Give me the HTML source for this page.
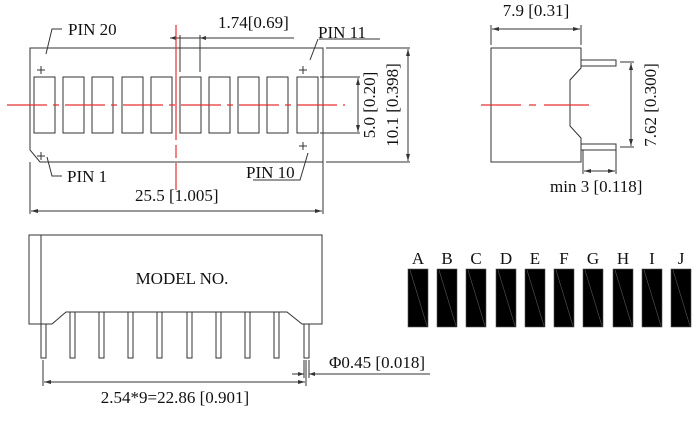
<!DOCTYPE html>
<html><head><meta charset="utf-8"><style>
html,body{margin:0;padding:0;background:#fff;}
svg{display:block;}
text{font-family:"Liberation Serif",serif;font-size:17px;fill:#111;}
</style></head><body>
<svg width="700" height="421" viewBox="0 0 700 421" xmlns="http://www.w3.org/2000/svg">
<g fill="none" stroke="#333" stroke-width="1">
<path d="M30,48 H323 V162 H40 L30,150 Z"/>
<rect x="34" y="77" width="21" height="56"/>
<rect x="63" y="77" width="21" height="56"/>
<rect x="92" y="77" width="21" height="56"/>
<rect x="122" y="77" width="21" height="56"/>
<rect x="151" y="77" width="21" height="56"/>
<rect x="180" y="77" width="21" height="56"/>
<rect x="209" y="77" width="21" height="56"/>
<rect x="238" y="77" width="21" height="56"/>
<rect x="267" y="77" width="21" height="56"/>
<rect x="297" y="77" width="21" height="56"/>
<path d="M37,70 h8 M41,66 v8 M299,70 h8 M303,66 v8 M37,156 h8 M41,152 v8 M299,146 h8 M303,142 v8"/>
<path d="M62,29 H52 L46,54"/>
<path d="M62,176 H52 L47,157"/>
<path d="M318,39 L310,60"/>
<path d="M319,39 H380"/>
<path d="M253,180 H300 L308,153"/>
<path d="M170,38 H294 M180,35 V72 M200,35 V72"/>
<path d="M320,77 H360 M320,133 H360 M358,78 V132"/>
<path d="M326,48 H410 M326,162 H410 M408,49 V161"/>
<path d="M30,162 V214 M323,162 V214 M31,211 H322"/>
<path d="M491,48 H581 V68 L570,80 V126 L581,138 V162 H491 Z"/>
<path d="M581,60 H616 V66 H581 M581,144 H616 V150 H581"/>
<path d="M491,25 V45 M581,25 V45 M492,29 H580"/>
<path d="M620,62 H634 M620,147 H634 M631,63 V146"/>
<path d="M583,150 V174 M616,150 V174 M584,171 H615"/>
<path d="M29,235 H322 V324 H302 L287,312 H66 L52,324 H29 Z"/>
<path d="M41,235 V324"/>
<g>
<rect x="41" y="324" width="5" height="34"/>
<rect x="70" y="312" width="5" height="46"/>
<rect x="99" y="312" width="5" height="46"/>
<rect x="128" y="312" width="5" height="46"/>
<rect x="157" y="312" width="5" height="46"/>
<rect x="187" y="312" width="5" height="46"/>
<rect x="216" y="312" width="5" height="46"/>
<rect x="245" y="312" width="5" height="46"/>
<rect x="274" y="312" width="5" height="46"/>
<rect x="304" y="324" width="5" height="34"/>
</g>
<path d="M43,360 V386 M306,360 V386 M44,382 H305"/>
<path d="M292,374 H304 M309,374 H430 M304,360 V378 M309,360 V378"/>
</g>
<g fill="#333">
<path d="M170,38 l6,-2 v4 Z"/>
<path d="M200,38 l6,-2 v4 Z"/>
<path d="M31,211 l7,-2 v4 Z M322,211 l-7,-2 v4 Z"/>
<path d="M358,78 l-2,7 h4 Z M358,132 l-2,-7 h4 Z"/>
<path d="M408,49 l-2,7 h4 Z M408,161 l-2,-7 h4 Z"/>
<path d="M492,29 l7,-2 v4 Z M580,29 l-7,-2 v4 Z"/>
<path d="M631,63 l-2,7 h4 Z M631,146 l-2,-7 h4 Z"/>
<path d="M584,171 l7,-2 v4 Z M615,171 l-7,-2 v4 Z"/>
<path d="M44,382 l7,-2 v4 Z M305,382 l-7,-2 v4 Z"/>
<path d="M304,374 l-6,-2 v4 Z M309,374 l6,-2 v4 Z"/>
</g>
<g stroke="#e53030" stroke-width="1.2" fill="none">
<path d="M7,105 H345" stroke-dasharray="40,6,6,6"/>
<path d="M176,25 V140 M176,145 V158 M176,163 V190"/>
<path d="M481,105 H521 M529,105 H536 M544,105 H589"/>
</g>
<g fill="#000" stroke="#555" stroke-width="0.6">
<rect x="408" y="269" width="20" height="58"/>
<rect x="437" y="269" width="20" height="58"/>
<rect x="466" y="269" width="20" height="58"/>
<rect x="496" y="269" width="20" height="58"/>
<rect x="525" y="269" width="20" height="58"/>
<rect x="554" y="269" width="20" height="58"/>
<rect x="583" y="269" width="20" height="58"/>
<rect x="613" y="269" width="20" height="58"/>
<rect x="642" y="269" width="20" height="58"/>
<rect x="671" y="269" width="20" height="58"/>
</g>
<g stroke="#555" stroke-width="0.6">
<path d="M410,270 L427,326 M439,270 L456,326 M468,270 L485,326 M498,270 L515,326 M527,270 L544,326 M556,270 L573,326 M585,270 L602,326 M615,270 L632,326 M644,270 L661,326 M673,270 L690,326"/>
</g>
<g text-anchor="middle">
<text x="418" y="264">A</text><text x="447" y="264">B</text><text x="476" y="264">C</text><text x="506" y="264">D</text><text x="535" y="264">E</text><text x="564" y="264">F</text><text x="593" y="264">G</text><text x="623" y="264">H</text><text x="652" y="264">I</text><text x="681" y="264">J</text>
</g>
<text x="68" y="35">PIN 20</text>
<text x="67" y="182">PIN 1</text>
<text x="318" y="38">PIN 11</text>
<text x="246" y="178">PIN 10</text>
<text x="218" y="28">1.74[0.69]</text>
<text x="135" y="201">25.5 [1.005]</text>
<text transform="translate(375,105) rotate(-90)" text-anchor="middle">5.0 [0.20]</text>
<text transform="translate(398,105) rotate(-90)" text-anchor="middle">10.1 [0.398]</text>
<text x="536" y="16" text-anchor="middle">7.9 [0.31]</text>
<text transform="translate(656,105) rotate(-90)" text-anchor="middle">7.62 [0.300]</text>
<text x="550" y="192">min 3 [0.118]</text>
<text x="182" y="284" text-anchor="middle">MODEL NO.</text>
<text x="329" y="368">Φ0.45 [0.018]</text>
<text x="175" y="403" text-anchor="middle">2.54*9=22.86 [0.901]</text>
</svg>
</body></html>
